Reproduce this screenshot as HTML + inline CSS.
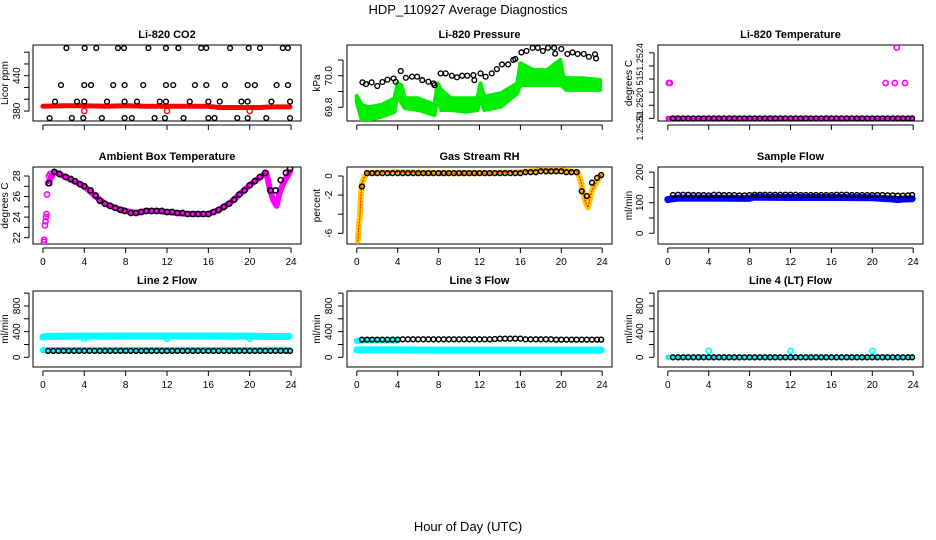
<!DOCTYPE html>
<html><head><meta charset="utf-8">
<style>
html,body{margin:0;padding:0;background:#fff;}
svg{display:block;font-family:"Liberation Sans",Arial,sans-serif;}
</style></head>
<body>
<svg id="chart" width="936" height="540" viewBox="0 0 936 540" xmlns="http://www.w3.org/2000/svg">
<text x="468" y="14" text-anchor="middle" font-size="13">HDP_110927  Average Diagnostics</text>
<text x="468" y="531" text-anchor="middle" font-size="13">Hour of Day (UTC)</text>
</svg>
<script>
// ---------- shared time base ----------
const hours48 = [0.5,1,1.5,2,2.5,3,3.5,4,4.5,5,5.5,6,6.5,7,7.5,8,8.5,9,9.5,10,10.5,11,11.5,12,12.5,13,13.5,14,14.5,15,15.5,16,16.5,17,17.5,18,18.5,19,19.5,20,20.5,21,21.5,22,22.5,23,23.5,23.9];
const xTicks = [0,4,8,12,16,20,24];

// ---------- CO2 ----------
const co2BlackT = [2.27,4.04,5.16,7.26,7.84,10.2,11.9,13.1,15.3,15.8,18.1,19.9,21,23.2,23.7,
 1.75,4,4.65,6.8,7.9,9.7,11.9,12.6,14.7,15.8,17.6,19.8,20.5,22.6,23.7,
 1.17,3.3,4,6.2,7.9,9.1,11.3,11.9,14.2,16,17.1,19.2,19.8,22.1,23.9,
 0.65,2.8,3.9,5.7,7.9,8.6,10.8,11.8,13.6,16,16.6,18.8,19.8,21.6,23.9];
const co2BlackV = [487,487,487,487,487,487,487,487,487,487,487,487,487,487,487,
 424,424,424,424,424,424,424,424,424,424,424,424,424,424,424,
 396,396,396,396,396,396,396,396,396,396,396,396,396,396,396,
 368,368,368,368,368,368,368,368,368,368,368,368,368,368,368];
const co2RedT = [0,2,4,6,8,10,12,14,16,17,19,21,22,23.9];
const co2RedV = [388,389,389,388,389,388,388,388,388,386,386,386,387,387];
const co2OutT = [4,12,20];
const co2OutV = [380,380,380];

// ---------- Pressure ----------
const presBlackT = [0.55,0.9,1.45,2.0,2.5,3.0,3.6,3.8,4.3,4.8,5.4,5.9,6.4,7.0,7.5,7.6,8.2,8.7,9.3,9.8,10.3,10.8,11.4,11.5,12.1,12.6,13.2,13.7,14.2,14.8,15.3,15.5,16.1,16.6,17.2,17.7,18.2,18.7,19.3,19.4,20.0,20.6,21.1,21.6,22.2,22.7,23.3,23.4];
const presBlackV = [69.958,69.947,69.958,69.935,69.96,69.975,69.983,69.962,70.03,69.987,69.994,69.994,69.972,69.962,69.951,69.94,70.015,70.015,70.0,69.99,70.0,70.0,70.004,69.972,70.015,69.994,70.015,70.042,70.072,70.072,70.1,70.106,70.148,70.157,70.177,70.177,70.157,70.177,70.177,70.14,70.17,70.138,70.148,70.138,70.138,70.12,70.136,70.11];
const presGreenT = [0,0.48,1.13,2.4,3.7,4.0,4.35,4.7,6.0,7.6,7.9,8.25,9.2,10.8,11.8,12.1,12.45,14.1,15.7,16.0,17.3,18.6,19.9,20.2,20.5,22.1,23.8];
const presGreenHi = [69.872,69.815,69.8,69.815,69.857,69.952,69.941,69.857,69.857,69.815,69.952,69.91,69.857,69.857,69.857,69.952,69.867,69.889,69.952,70.078,70.036,70.036,70.1,69.994,69.984,69.984,69.973];
const presGreenLo = [69.835,69.72,69.72,69.74,69.772,69.889,69.83,69.794,69.783,69.751,69.867,69.783,69.783,69.772,69.783,69.867,69.783,69.804,69.889,69.941,69.941,69.941,69.941,69.93,69.91,69.91,69.91];

// ---------- Li-820 Temperature ----------
const tempBlackV = [51.2520,51.2520,51.2520,51.2520,51.2520,51.2520,51.2520,51.2520,51.2520,51.2520,51.2520,51.2520,51.2520,51.2520,51.2520,51.2520,51.2520,51.2520,51.2520,51.2520,51.2520,51.2520,51.2520,51.2520,51.2520,51.2520,51.2520,51.2520,51.2520,51.2520,51.2520,51.2520,51.2520,51.2520,51.2520,51.2520,51.2520,51.2520,51.2520,51.2520,51.2520,51.2520,51.2520,51.2520,51.2520,51.2520,51.2520,51.2520];
const tempMagBandT = [0,6,12,18,23.9];
const tempMagBandV = [51.2520,51.2520,51.2520,51.2520,51.2520];
const tempMagPtT = [0.1,0.2,21.3,22.2,23.2,22.4];
const tempMagPtV = [51.25227,51.25227,51.25227,51.25227,51.25227,51.25254];
const tempTickV = [51.2520,51.2521,51.2522,51.2523,51.2524,51.2525];
const tempLabelV = [51.251935,51.25211,51.25229,51.25245];
const tempLabelS = ["1.2520","51.2520","51","51.2524"];

// ---------- Ambient Box Temperature ----------
const ambBlackT = [0.6,1.1,1.6,2.2,2.7,3.1,3.6,4.0,4.6,5.1,5.5,6.0,6.5,7.0,7.5,7.9,8.5,9.0,9.5,10.0,10.5,11.0,11.5,12.0,12.5,13.0,13.5,14.0,14.5,15.0,15.5,16.0,16.5,17.0,17.5,18.0,18.5,19.0,19.5,20.0,20.5,21.0,21.5,22.0,22.5,23.0,23.5,23.9];
const ambBlackV = [27.3,28.4,28.2,27.9,27.7,27.5,27.2,27.0,26.6,26.1,25.6,25.3,25.1,24.9,24.7,24.6,24.4,24.4,24.5,24.6,24.6,24.6,24.6,24.5,24.5,24.4,24.4,24.3,24.3,24.3,24.3,24.3,24.5,24.7,25.0,25.3,25.7,26.2,26.6,27.1,27.5,27.9,28.3,26.6,26.6,27.6,28.3,28.7];
const ambMagT = [0.6,1.1,2,3,4,5,6,7,8,9,10,11,12,13,14,15,16,17,18,19,20,21,21.6,22,22.3,22.6,22.9,23.3,23.9];
const ambMagV = [27.5,28.4,28.0,27.5,27.0,26.1,25.3,24.9,24.6,24.4,24.6,24.6,24.5,24.4,24.3,24.3,24.3,24.7,25.3,26.2,27.1,27.9,28.3,26.5,25.6,25.1,26.4,27.4,28.4];
const ambMagPtT = [0.1,0.12,0.2,0.25,0.3,0.35,0.4,0.5,0.6,0.7];
const ambMagPtV = [21.6,21.8,23.2,23.6,24.0,24.3,26.2,27.3,28.0,28.2];

// ---------- Gas Stream RH ----------
const rhBlackV = [-1.1,0.3,0.3,0.3,0.3,0.3,0.3,0.3,0.3,0.3,0.3,0.3,0.3,0.3,0.3,0.3,0.3,0.3,0.3,0.3,0.3,0.3,0.3,0.3,0.3,0.3,0.3,0.3,0.3,0.3,0.3,0.3,0.4,0.4,0.4,0.5,0.5,0.5,0.5,0.5,0.4,0.4,0.4,-1.6,-2.1,-0.7,-0.2,0.1];
const rhBandT = [0.1,0.2,0.3,0.4,0.5,0.7,1.0,4,8,12,16,18,20,21.6,21.9,22.3,22.6,23.0,23.5,23.9];
const rhBandV = [-6.8,-5.2,-4.3,-2.1,-0.8,-0.2,0.3,0.4,0.3,0.3,0.4,0.6,0.6,0.4,-0.5,-2.5,-3.3,-1.5,-0.5,0.1];

// ---------- Sample Flow ----------
const sfBlackV = [125,126,126,126,125,125,125,124,126,126,125,125,125,124,124,125,126,126,126,126,126,126,126,126,126,125,125,125,125,125,125,125,126,126,126,125,125,125,125,125,125,125,124,124,123,123,124,125];
const sfBlueT = [0,0.3,1,4,8,8.3,12,16,20,22,22.5,23,23.9];
const sfBlueV = [110,112,115,115,114,118,117,117,116,112,110,112,113];

// ---------- Line 2 Flow ----------
const l2BlackV = [100,100,100,100,100,100,100,100,100,100,100,100,100,100,100,100,100,100,100,100,100,100,100,100,100,100,100,100,100,100,100,100,100,100,100,100,100,100,100,100,100,100,100,100,100,100,100,100];
const l2UpperT = [0,0.5,4,8,12,16,20,22,23.8];
const l2UpperV = [315,325,330,332,332,332,330,322,325];
const l2DipT = [4,12,20];
const l2DipV = [290,290,290];
const l2LowerT = [0,4,8,12,16,20,23.8];
const l2LowerV = [112,115,116,116,116,116,118];

// ---------- Line 3 Flow ----------
const l3BlackV = [275,275,275,275,275,275,275,275,280,280,280,280,280,280,280,280,280,280,280,280,280,280,280,280,280,280,285,290,290,290,290,290,280,280,280,280,280,280,275,275,275,275,275,275,275,275,275,275];
const l3UpperT = [0,0.5,1,4];
const l3UpperV = [255,260,265,262];
const l3LowerT = [0,4,8,12,16,20,23.9];
const l3LowerV = [115,115,112,112,112,112,112];

// ---------- Line 4 Flow ----------
const l4BlackV = [0,0,0,0,0,0,0,0,0,0,0,0,0,0,0,0,0,0,0,0,0,0,0,0,0,0,0,0,0,0,0,0,0,0,0,0,0,0,0,0,0,0,0,0,0,0,0,0];
const l4BandT = [0,6,12,18,23.9];
const l4BandV = [0,0,0,0,0];
const l4OutT = [4,12,20];
const l4OutV = [100,100,100];

// ---------- rendering ----------
const svg = document.getElementById('chart');
const NS = 'http://www.w3.org/2000/svg';
function mk(tag, attrs){ const e=document.createElementNS(NS,tag); for(const k in attrs) e.setAttribute(k,attrs[k]); return e; }

const cols = [[33,301],[347,612],[658,923]];
const rows = [[45,121],[167,244],[291,367]];
const tickLabX = [20,332,643];
const yTitleX = [8,320,632];
const xmin=-0.96, xmax=24.96;

function makePanel(c, r, title, name, ylim, yticks, ylabels, ytitle, showX, labSize){
  const [L,R]=cols[c],[T,B]=rows[r];
  const g=mk('g',{});
  
  
  svg.appendChild(g);
  const sx=t=>L+(t-xmin)/(xmax-xmin)*(R-L);
  const sy=v=>B-(v-ylim[0])/(ylim[1]-ylim[0])*(B-T);
  const box=mk('rect',{x:L,y:T,width:R-L,height:B-T,fill:'none',stroke:'#000','stroke-width':1});
  
  
  g.appendChild(box);
  const tt=mk('text',{x:(L+R)/2,y:T-7,'text-anchor':'middle','font-size':11,'font-weight':'bold'});
  tt.textContent=title;
  
  
  g.appendChild(tt);
  const xa=mk('g',{});
  
  
  g.appendChild(xa);
  xa.appendChild(mk('line',{x1:sx(0),x2:sx(24),y1:B+4,y2:B+4,stroke:'#000'}));
  xTicks.forEach(t=>{
    xa.appendChild(mk('line',{x1:sx(t),x2:sx(t),y1:B+4,y2:B+9,stroke:'#000'}));
    if(showX){
      const tx=mk('text',{x:sx(t),y:B+21,'text-anchor':'middle','font-size':10});
      tx.textContent=String(t);
      
      
      xa.appendChild(tx);
    }
  });
  const ya=mk('g',{});
  
  
  g.appendChild(ya);
  ya.appendChild(mk('line',{x1:L-4,x2:L-4,y1:sy(yticks[0]),y2:sy(yticks[yticks.length-1]),stroke:'#000'}));
  yticks.forEach(v=>{ ya.appendChild(mk('line',{x1:L-9,x2:L-4,y1:sy(v),y2:sy(v),stroke:'#000'})); });
  ylabels.vals.forEach((v,i)=>{
    const y=sy(v), x=tickLabX[c];
    const tx=mk('text',{x:x,y:y,'text-anchor':'middle','font-size':labSize||10,transform:'rotate(-90 '+x+' '+y+')'});
    tx.textContent=ylabels.text[i];
    
    
    ya.appendChild(tx);
  });
  const yt=mk('text',{x:yTitleX[c],y:(T+B)/2,'text-anchor':'middle','font-size':10,transform:'rotate(-90 '+yTitleX[c]+' '+((T+B)/2)+')'});
  yt.textContent=ytitle;
  
  
  g.appendChild(yt);
  const clipId='clip-'+name;
  const cp=mk('clipPath',{id:clipId}); cp.appendChild(mk('rect',{x:L,y:T,width:R-L,height:B-T})); g.appendChild(cp);
  const plot=mk('g',{'clip-path':'url(#'+clipId+')'});
  
  
  g.appendChild(plot);
  return {g:plot,sx,sy};
}
function points(p, ts, vs, color, r, sw, nm){
  const gg=mk('g',{});
  
  
  p.g.appendChild(gg);
  ts.forEach((t,i)=>{
    const c=mk('circle',{cx:p.sx(t),cy:p.sy(vs[i]),r:r,fill:'none',stroke:color,'stroke-width':sw});
    
    
    gg.appendChild(c);
  });
}
function band(p, ts, vs, color, w, nm, dash){
  const pts=ts.map((t,i)=>p.sx(t).toFixed(1)+','+p.sy(vs[i]).toFixed(1)).join(' ');
  const a={points:pts,fill:'none',stroke:color,'stroke-width':w,'stroke-linejoin':'round','stroke-linecap':'round'};
  if(dash) a['stroke-dasharray']=dash;
  const pl=mk('polyline',a);
  
  
  p.g.appendChild(pl);
}
function area(p, ts, hi, lo, color, nm){
  const up=ts.map((t,i)=>p.sx(t).toFixed(1)+','+p.sy(hi[i]).toFixed(1));
  const dn=ts.map((t,i)=>p.sx(t).toFixed(1)+','+p.sy(lo[i]).toFixed(1)).reverse();
  const pg=mk('polygon',{points:up.concat(dn).join(' '),fill:color,stroke:color,'stroke-width':4,'stroke-linejoin':'round'});
  
  
  p.g.appendChild(pg);
}

let p=makePanel(0,0,'Li-820 CO2','co2',[363,492.2],[380,400,420,440,460,480],{vals:[380,440],text:['380','440']},'Licor ppm',false);
band(p,co2RedT,co2RedV,'#ff0000',5,'co2-red-series');
points(p,co2OutT,co2OutV,'#ff0000',2.6,1.4,'co2-red-outliers');
points(p,co2BlackT,co2BlackV,'#000',2.4,1.4,'co2-black-series');

p=makePanel(1,0,'Li-820 Pressure','pressure',[69.713,70.195],[69.8,69.9,70.0,70.1],{vals:[69.8,70.0],text:['69.8','70.0']},'kPa',false);
area(p,presGreenT,presGreenHi,presGreenLo,'#00ee00','pressure-green-series');
points(p,presBlackT,presBlackV,'#000',2.4,1.4,'pressure-black-series');

p=makePanel(2,0,'Li-820 Temperature','li820-temp',[51.25198,51.25256],tempTickV,{vals:tempLabelV,text:tempLabelS},'degrees C',false,9);
band(p,tempMagBandT,tempMagBandV,'#ff00ff',5,'li820-temp-magenta-band');
points(p,tempMagPtT,tempMagPtV,'#ff00ff',2.6,1.6,'li820-temp-magenta-points');
points(p,hours48,tempBlackV,'#000',2.4,1.4,'li820-temp-black-series');

p=makePanel(0,1,'Ambient Box Temperature','ambient-temp',[21.385,28.875],[22,23,24,25,26,27,28],{vals:[22,24,26,28],text:['22','24','26','28']},'degrees C',true);
band(p,ambMagT,ambMagV,'#ff00ff',6,'ambient-magenta-series');
points(p,ambMagPtT,ambMagPtV,'#ff00ff',2.6,1.6,'ambient-magenta-points');
points(p,ambBlackT,ambBlackV,'#000',2.6,1.6,'ambient-black-series');

p=makePanel(1,1,'Gas Stream RH','gas-rh',[-7.12,0.942],[-6,-4,-2,0],{vals:[-6,-2,0],text:['-6','-2','0']},'percent',true);
band(p,rhBandT,rhBandV,'#ffcc00',6,'rh-yellow-series');
band(p,rhBandT,rhBandV,'#ff2000',1.2,'rh-red-series','1 2');
points(p,hours48,rhBlackV,'#000',2.4,1.5,'rh-black-series');

p=makePanel(2,1,'Sample Flow','sample-flow',[-35,216.7],[0,50,100,150,200],{vals:[0,100,200],text:['0','100','200']},'ml/min',true);
band(p,sfBlueT,sfBlueV,'#0000ff',7,'sample-flow-blue-series');
points(p,hours48,sfBlackV,'#000',2.4,1.5,'sample-flow-black-series');

const flowTicks=[0,200,400,600,800,1000], flowLab={vals:[0,400,800],text:['0','400','800']};
p=makePanel(0,2,'Line 2 Flow','line2-flow',[-151,1033],flowTicks,flowLab,'ml/min',true);
band(p,l2UpperT,l2UpperV,'#00ffff',7,'line2-cyan-upper');
points(p,l2DipT,l2DipV,'#00ffff',2.6,1.6,'line2-cyan-dips');
band(p,l2LowerT,l2LowerV,'#00ffff',6,'line2-cyan-lower');
points(p,hours48,l2BlackV,'#000',2.4,1.5,'line2-black-series');

p=makePanel(1,2,'Line 3 Flow','line3-flow',[-151,1033],flowTicks,flowLab,'ml/min',true);
band(p,l3LowerT,l3LowerV,'#00ffff',7,'line3-cyan-lower');
band(p,l3UpperT,l3UpperV,'#00ffff',6,'line3-cyan-upper');
points(p,hours48,l3BlackV,'#000',2.4,1.5,'line3-black-series');

p=makePanel(2,2,'Line 4 (LT) Flow','line4-flow',[-151,1033],flowTicks,flowLab,'ml/min',true);
band(p,l4BandT,l4BandV,'#00ffff',5,'line4-cyan-band');
points(p,l4OutT,l4OutV,'#00ffff',2.6,1.6,'line4-cyan-outliers');
points(p,hours48,l4BlackV,'#000',2.4,1.5,'line4-black-series');
</script>
</body></html>
